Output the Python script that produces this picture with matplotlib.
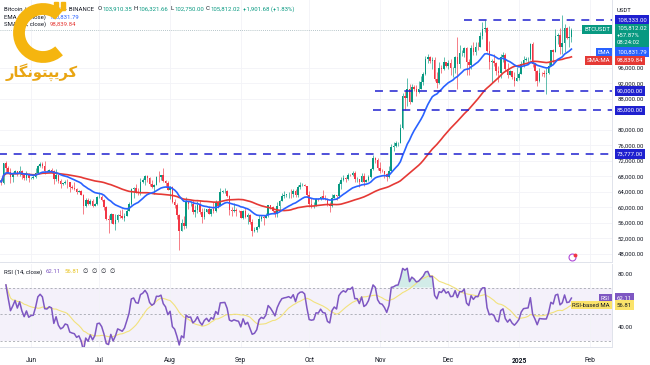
import matplotlib
matplotlib.use("Agg")
import matplotlib.pyplot as plt
import matplotlib.dates as mdates
import matplotlib.transforms as mtransforms
from matplotlib.patches import Arc, Rectangle
from matplotlib.ticker import FuncFormatter
import numpy as np
import pandas as pd

plt.rcParams['font.family'] = ['Roboto', 'DejaVu Sans']

# daily BTCUSDT candles, 2024-05-18 .. 2025-01-24
first_date = '2024-05-18'
first_open = 67020
closes = [
    66920, 66270, 71450, 70140, 69120, 67930, 68530, 69290, 68500, 69400, 68350, 67580, 68360, 67490,  # May
    67710, 67750, 68800, 70560, 71080, 70790, 69350, 69310, 69650, 69510, 67320, 68240, 66750, 66010, 66190,
    66640, 66490, 65150, 64960, 64830, 64100, 64250, 63180, 60280, 61800, 60860, 61680, 60320, 60890, 62680,  # Jun
    62770, 62020, 60200, 57030, 56640, 58240, 55860, 56710, 58050, 57720, 57340, 57900, 59210, 60790, 64720, 65040,
    64090, 63970, 66660, 67140, 68170, 67570, 65930, 65370, 65780, 67910, 67890, 68250, 66780, 66190, 64620,  # Jul
    65350, 61500, 60700, 58160, 54020, 56040, 55130, 61700, 60840, 60930, 58710, 59350, 60600, 58740, 57560, 58870,
    59490, 58430, 59480, 59020, 61160, 60380, 64090, 64180, 64250, 62830, 59420, 59030, 59390, 59120, 58970,  # Aug
    57320, 59130, 57480, 57970, 56160, 53960, 54160, 54870, 57050, 57640, 57340, 58130, 60570, 60000, 59180,
    58210, 60310, 61760, 62950, 63200, 63350, 63580, 63340, 64260, 63150, 65180, 65790, 65890, 65600, 63300,  # Sep
    60810, 60650, 60750, 62090, 62050, 62820, 62220, 62130, 60580, 60270, 62450, 63190, 62850, 66080, 67040, 67610,
    67400, 68420, 68360, 69000, 67370, 67380, 66660, 68160, 66640, 67010, 67930, 69910, 72720, 72340, 70220,  # Oct
    69500, 69350, 68740, 67800, 69370, 75570, 75860, 76510, 76700, 80370, 88650, 88260, 90480, 87300, 91060,
    90580, 89820, 90460, 92310, 94290, 98350, 98890, 97670, 97900, 93010, 91960, 95860, 95640, 97460, 96410,  # Nov
    97190, 95840, 96000, 98770, 96950, 99870, 99870, 101110, 97360, 96590, 101130, 100000, 101420, 101370, 104300,
    106060, 106140, 100200, 97460, 97760, 97220, 95100, 94700, 98690, 99400, 95700, 94160, 95160, 93530, 92640, 93430,  # Dec
    94420, 96890, 98110, 98240, 98360, 102240, 96950, 95040, 92480, 94700, 94570, 94510, 94520, 96530, 100500,
    99990, 104080, 104560, 101330, 102260, 106140, 103650, 103910, 105810,  # Jan
]
highs = [
    67450, 67000, 71520, 71950, 70630, 70080, 69220, 69560, 69500, 70600, 69600, 68900, 69500, 69000,
    67860, 68400, 70280, 71060, 71760, 71620, 71990, 69560, 69850, 70150, 69560, 69990, 68450, 67300, 66400,
    66990, 67250, 66580, 65730, 66480, 65070, 64520, 64520, 63370, 62350, 62480, 62300, 62160, 61220, 63000,
    63860, 63300, 62290, 60500, 58000, 58480, 58300, 58230, 58300, 59450, 59600, 58560, 59830, 61420, 64900, 65390,
    66130, 65120, 67460, 67600, 68360, 68480, 67780, 67090, 66150, 68220, 69400, 68320, 70080, 66980, 66810,
    65590, 65600, 62180, 61100, 58290, 57100, 57780, 62750, 61750, 61470, 61860, 60700, 61580, 61800, 59850, 59830,
    59650, 60260, 59610, 61400, 61800, 61400, 64950, 64500, 65000, 64480, 63210, 60230, 61170, 59830, 59450,
    59050, 59400, 59810, 58520, 58330, 56990, 54850, 55300, 58090, 58040, 57990, 58580, 60670, 60660, 60400,
    59210, 61320, 61790, 63850, 64130, 63560, 64000, 64750, 64800, 64700, 65840, 66500, 66260, 66070, 65630,
    64130, 62390, 61470, 62480, 62370, 62990, 64470, 63190, 62520, 61320, 63400, 63480, 63290, 66500, 67950, 68420,
    67910, 68980, 68690, 69400, 69500, 67840, 67450, 68850, 68770, 67450, 68330, 70270, 73620, 72960, 72700,
    71630, 69950, 69500, 69000, 70580, 76400, 76950, 77250, 76850, 81500, 89530, 89940, 93270, 91790, 91850,
    91440, 91600, 92600, 94000, 94900, 98970, 99590, 98900, 98650, 98870, 94950, 97360, 96650, 98690, 97460,
    97900, 98150, 96300, 99000, 103900, 101900, 100500, 101400, 101220, 98270, 101890, 102540, 102650, 102650, 105250,
    107790, 108350, 106500, 102800, 98150, 99540, 97450, 96420, 99420, 99960, 99880, 97300, 95520, 95200, 94900, 96200,
    94900, 97800, 98980, 98730, 98820, 102480, 102700, 97250, 95350, 95830, 95000, 95400, 95900, 97360, 100700,
    100780, 105860, 104990, 106300, 109590, 107240, 106400, 106850, 106320,
]
lows = [
    66600, 65850, 66060, 69160, 68850, 66300, 66620, 68500, 68200, 68230, 67280, 67120, 67120, 66670,
    67440, 67260, 67610, 68560, 70390, 70120, 68520, 69210, 69130, 69230, 66120, 66900, 66300, 65080, 65870,
    66030, 65100, 64060, 64690, 64500, 63380, 63940, 63160, 58400, 60220, 60710, 60620, 60030, 60300, 60620,
    62500, 61760, 59440, 56800, 53490, 56000, 55730, 54260, 56300, 57160, 57050, 56530, 57820, 59200, 60630, 62420,
    63840, 63230, 63300, 66220, 65760, 66600, 65440, 65120, 63460, 65770, 66650, 67070, 66570, 65320, 64540,
    62250, 61200, 59850, 57120, 49000, 53970, 54560, 54730, 59620, 60280, 58330, 57630, 58500, 58430, 56080, 57100,
    58780, 58190, 57850, 58580, 58790, 59800, 60350, 63600, 63800, 62800, 58120, 57860, 58780, 57750, 58750,
    57200, 57120, 57400, 55610, 55680, 52550, 53750, 53660, 54590, 56420, 55550, 57320, 57630, 59470, 58700,
    57490, 57610, 59180, 61570, 62360, 62750, 62370, 62560, 62700, 62670, 62670, 64820, 65420, 65430, 62770,
    60160, 59820, 59830, 60460, 61640, 61800, 62130, 61820, 60270, 58900, 60050, 62400, 62000, 62420, 64800, 66750,
    66660, 67140, 68100, 68100, 66560, 66570, 65260, 66490, 65520, 66530, 66800, 67600, 69730, 71440, 69680,
    68820, 69020, 67460, 66830, 67460, 69300, 74460, 75560, 75760, 76490, 80220, 85070, 86130, 86670, 87120,
    90100, 88720, 89380, 90400, 91500, 94100, 97190, 97230, 95730, 92600, 90790, 91810, 94600, 95360, 96160,
    95700, 94200, 93580, 94660, 90500, 95980, 99100, 98840, 94150, 94260, 95690, 99310, 99210, 100610, 101220,
    103330, 105320, 100000, 95670, 92180, 96400, 94200, 92400, 93400, 97600, 95140, 93250, 94100, 93000, 91320, 92500,
    92800, 94400, 96200, 97800, 97300, 97900, 96100, 92500, 91200, 92200, 93800, 93700, 89260, 94300, 96470,
    97250, 99950, 102230, 99500, 99550, 100120, 103300, 101220, 102750,
]

# horizontal levels drawn on the chart and where they start
levels = [108333, 90000, 85000, 73777]
level_starts = ['2024-12-08', '2024-10-30', '2024-10-29', '2024-05-18']

# price-scale labels that are not hidden behind a tag
price_ticks = [48000, 52000, 56000, 60000, 64000, 68000, 72000, 76000, 80000, 88000, 92000, 96000]
rsi_ticks = [40, 80]

month_ticks = ['2024-06-01', '2024-07-01', '2024-08-01', '2024-09-01', '2024-10-01',
               '2024-11-01', '2024-12-01', '2025-01-01', '2025-02-01']
month_labels = ['Jun', 'Jul', 'Aug', 'Sep', 'Oct', 'Nov', 'Dec', '2025', 'Feb']

GREEN = '#089981'
RED = '#F23645'
LEVEL = '#1f20cf'
TXT = '#131722'
FS = 4.3

dates = pd.date_range(first_date, periods=len(closes), freq='D')
df = pd.DataFrame({'high': highs, 'low': lows, 'close': closes}, index=dates)
df['open'] = [first_open] + closes[:-1]

ema = df['close'].ewm(span=20).mean()
sma = df['close'].rolling(50, min_periods=1).mean()
delta = df['close'].diff()
up = delta.clip(lower=0).ewm(alpha=1 / 14, min_periods=3).mean()
down = (-delta.clip(upper=0)).ewm(alpha=1 / 14, min_periods=3).mean()
rsi = 100 - 100 / (1 + up / down)
rsi_ma = rsi.rolling(14, min_periods=1).mean()

x = mdates.date2num(df.index)
jan1 = mdates.date2num(pd.Timestamp('2025-01-01'))

fig = plt.figure(figsize=(6.5, 3.65), dpi=100)
ax = fig.add_axes([0, 1 - 262 / 365, 612 / 650, 262 / 365])
rx = fig.add_axes([0, 1 - 347 / 365, 612 / 650, 83 / 365], sharex=ax)

# candles
up_day = df['close'] >= df['open']
colors = np.where(up_day, GREEN, RED)
ax.vlines(x, df['low'], df['high'], colors=colors, lw=0.45, zorder=2)
body = (df['close'] - df['open']).abs().clip(lower=40)
ax.bar(x, body, bottom=np.minimum(df['open'], df['close']), width=0.7,
       color=colors, linewidth=0, zorder=2)

ax.plot(x, sma, color='#E53935', lw=1.2, zorder=3)
ax.plot(x, ema, color='#2962FF', lw=1.2, zorder=3)

for lv, st in zip(levels, level_starts):
    ax.hlines(lv, mdates.date2num(pd.Timestamp(st)), jan1 + 45, color=LEVEL,
              lw=1.1, linestyles=(0, (5.2, 4.4)), zorder=4)
ax.axhline(closes[-1], color='#9fb3b8', lw=0.6, ls=(0, (1, 1.5)), zorder=1)

ax.set_xlim(jan1 - 227.6, jan1 + 40.8)
ax.set_ylim(45940, 113460)
ax.yaxis.tick_right()
ax.set_yticks(price_ticks)
ax.yaxis.set_major_formatter(FuncFormatter(lambda v, p: f'{v:,.2f}'))
ax.tick_params(axis='y', length=0, pad=4, labelsize=FS, labelcolor=TXT)
ax.tick_params(axis='x', length=0, labelbottom=False)
ax.set_xticks(mdates.date2num(pd.to_datetime(month_ticks)))
ax.grid(color='#f2f3f7', lw=0.6)
ax.set_axisbelow(True)
for s in ['top', 'left']:
    ax.spines[s].set_visible(False)
ax.spines['right'].set_color('#e0e3eb')
ax.spines['bottom'].set_color('#e0e3eb')
ax.spines['right'].set_linewidth(0.7)
ax.spines['bottom'].set_linewidth(0.7)

# RSI pane
rx.axhspan(30, 70, color='#7E57C2', alpha=0.08, lw=0)
for lv in [70, 50, 30]:
    rx.axhline(lv, color='#9598a1', lw=0.5, ls=(0, (3, 3)))
rx.fill_between(x, 70, rsi, where=rsi > 70, interpolate=True, color=GREEN, alpha=0.18, lw=0)
rx.fill_between(x, 30, rsi, where=rsi < 30, interpolate=True, color=RED, alpha=0.18, lw=0)
rx.plot(x, rsi_ma, color='#F2E27C', lw=0.8)
rx.plot(x, rsi, color='#7E57C2', lw=1.1)
rx.set_ylim(25.1, 87.8)
rx.yaxis.tick_right()
rx.set_yticks(rsi_ticks)
rx.yaxis.set_major_formatter(FuncFormatter(lambda v, p: f'{v:.2f}'))
rx.tick_params(axis='y', length=0, pad=4, labelsize=FS, labelcolor=TXT)
rx.set_xticks(mdates.date2num(pd.to_datetime(month_ticks)))
rx.set_xticklabels(month_labels)
rx.tick_params(axis='x', length=0, pad=7, labelsize=4.8, labelcolor=TXT)
for t in rx.get_xticklabels():
    if t.get_text() == '2025':
        t.set_fontweight('bold')
rx.grid(axis='x', color='#f2f3f7', lw=0.6)
rx.spines['top'].set_visible(False)
rx.spines['left'].set_visible(False)
rx.spines['right'].set_color('#e0e3eb')
rx.spines['bottom'].set_color('#e0e3eb')
rx.spines['right'].set_linewidth(0.7)
rx.spines['bottom'].set_linewidth(0.7)


def tag(axis, y, text, fc, tc='white', dy=0, va='center'):
    tr = mtransforms.blended_transform_factory(axis.transAxes, axis.transData)
    axis.annotate(text, xy=(1.0, y), xycoords=tr, xytext=(3.6, dy), textcoords='offset points',
                  ha='left', va=va, fontsize=FS, color=tc, zorder=6, annotation_clip=False,
                  linespacing=1.45,
                  bbox=dict(boxstyle='square,pad=0.35', fc=fc, ec='none'))


def side_tag(axis, y, text, fc, tc='white', dy=0):
    tr = mtransforms.blended_transform_factory(axis.transAxes, axis.transData)
    axis.annotate(text, xy=(1.0, y), xycoords=tr, xytext=(-1.5, dy), textcoords='offset points',
                  ha='right', va='center', fontsize=FS, color=tc, zorder=6, annotation_clip=False,
                  bbox=dict(boxstyle='square,pad=0.3', fc=fc, ec='none'))


for lv in levels:
    tag(ax, lv, f'{lv:,.2f}', LEVEL)
tag(ax, closes[-1], '105,812.02\n+57.87%\n08:24:02', GREEN, dy=2.6, va='top')
side_tag(ax, closes[-1], 'BTCUSDT', GREEN)
tag(ax, 100831.79, '100,831.79', '#2962FF', dy=-2.2)
side_tag(ax, 100831.79, 'EMA', '#2962FF', dy=-2.2)
tag(ax, 98839.84, '98,839.84', '#E53935', dy=-2.6)
side_tag(ax, 98839.84, 'SMA:MA', '#E53935', dy=-2.6)
tag(rx, 62.11, '62.11', '#7E57C2')
side_tag(rx, 62.11, 'RSI', '#7E57C2')
tag(rx, 56.81, '56.81', '#FBE36A', tc=TXT)
side_tag(rx, 56.81, 'RSI-based MA', '#FBE36A', tc=TXT)

# overlay in pixel units for legends and logo
ov = fig.add_axes([0, 0, 1, 1])
ov.set_xlim(0, 650)
ov.set_ylim(365, 0)
ov.axis('off')
ov.text(624, 10, 'USDT', fontsize=FS, color=TXT, ha='center', va='center')


def chain(xp, yp, parts):
    prev = ov.text(xp, yp, parts[0][0], fontsize=FS, color=parts[0][1], va='center')
    for txt, col, gap in parts[1:]:
        prev = ov.annotate(txt, xy=(1, 0.5), xycoords=prev, xytext=(gap, 0),
                           textcoords='offset points', fontsize=FS, color=col, va='center')


chain(4, 9, [('Bitcoin / TetherUS · 1D · BINANCE', TXT), ('O', TXT, 2.5), ('103,910.35', GREEN, 0.3),
             ('H', TXT, 1.5), ('106,321.66', GREEN, 0.3), ('L', TXT, 1.5), ('102,750.00', GREEN, 0.3),
             ('C', TXT, 1.5), ('105,812.02', GREEN, 0.3), ('+1,901.68 (+1.83%)', GREEN, 2)])
chain(4, 16.7, [('EMA (20, close)', TXT), ('100,831.79', '#2962FF', 2.5)])
chain(4, 24.3, [('SMA (50, close)', TXT), ('98,839.84', '#E53935', 2.5)])
chain(4, 271.7, [('RSI (14, close)', TXT), ('62.11', '#7E57C2', 2.5), ('56.81', '#E8C21A', 2.5),
                 ('∅', TXT, 2.5), ('∅', TXT, 2.5), ('∅', TXT, 2.5), ('∅', TXT, 2.5)])

# news marker
ov.plot(572, 257, 'o', ms=5, mfc='white', mec='#B04BD8', mew=0.8)
ov.plot(575, 254.5, 'o', ms=1.8, color=RED)

# logo
logo = '#F5B50F'
ov.add_patch(Arc((43, 33), 48, 48, theta1=48, theta2=312, lw=8.5, color=logo, zorder=5))
ov.add_patch(Rectangle((54, 1.5), 3.5, 8, color=logo, zorder=5))
ov.add_patch(Rectangle((61, 1.5), 3.5, 8, color=logo, zorder=5))
# Persian brand name, written in presentation forms (visual order) since there is no shaping
ov.text(42, 72, '\uFEAD\uFE8E\uFB95\uFEE7\uFEEE\uFE98\uFB59\uFBFE\uFEAE\uFB90', family='DejaVu Sans',
        fontsize=10.5, fontweight='bold', color='#E9A512', ha='center', va='center', zorder=5)

fig.savefig('out.png', dpi=100)
